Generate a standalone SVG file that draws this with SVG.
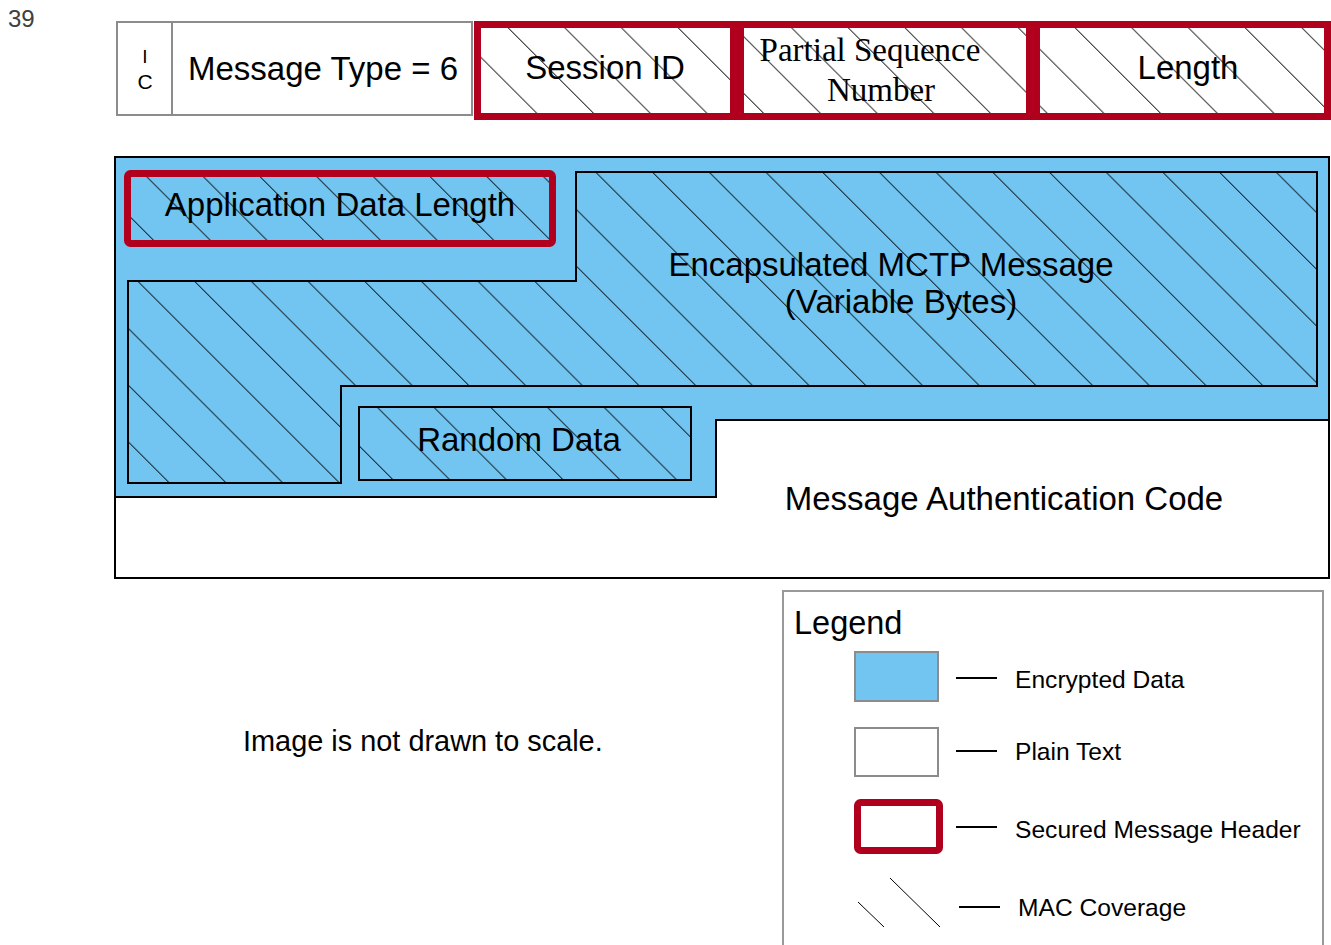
<svg xmlns="http://www.w3.org/2000/svg" width="1331" height="945" viewBox="0 0 1331 945">
<style>
text{font-family:"Liberation Sans",Arial,sans-serif;fill:#000}
.big{font-size:33px;text-anchor:middle}
.serif{font-family:"Liberation Serif","Times New Roman",serif;font-size:33px;text-anchor:middle}
.leg{font-size:24.6px}
.gray{fill:#fff;stroke:#8c8c8c;stroke-width:2}
.red{stroke:#b0001e;stroke-width:7;fill:none}
.blk{stroke:#000;stroke-width:2}
.blue{fill:#71c5f0}
.hatch{fill:url(#hatch)}
</style>
<defs>
<pattern id="hatch" patternUnits="userSpaceOnUse" width="56.7" height="56.7" patternTransform="skewX(45)">
<line x1="26.7" y1="0" x2="26.7" y2="56.7" stroke="#000" stroke-width="1.1"/>
</pattern>
</defs>
<text x="8" y="27" style="font-size:24px;fill:#404040">39</text>

<g id="ic">
<rect class="gray" x="117" y="22" width="55" height="93"/>
<text x="145" y="63" style="font-size:19px;text-anchor:middle">I</text>
<text x="145" y="89" style="font-size:21px;text-anchor:middle">C</text>
</g>
<g id="message-type">
<rect class="gray" x="172" y="22" width="300" height="93"/>
<text class="big" x="323" y="80">Message Type = 6</text>
</g>
<g id="session-id">
<rect x="477.5" y="24.5" width="256" height="92" fill="#fff"/>
<rect class="hatch" x="477.5" y="24.5" width="256" height="92"/>
<rect class="red" x="477.5" y="24.5" width="256" height="92"/>
<text class="big" x="605" y="79">Session ID</text>
</g>
<g id="partial-sequence-number">
<rect x="740.5" y="24.5" width="289" height="92" fill="#fff"/>
<rect class="hatch" x="740.5" y="24.5" width="289" height="92"/>
<rect class="red" x="740.5" y="24.5" width="289" height="92"/>
<text class="serif" x="870" y="61">Partial Sequence</text>
<text class="serif" x="881" y="101">Number</text>
</g>
<g id="length">
<rect x="1036.5" y="24.5" width="291" height="92" fill="#fff"/>
<rect class="hatch" x="1036.5" y="24.5" width="291" height="92"/>
<rect class="red" x="1036.5" y="24.5" width="291" height="92"/>
<text class="big" x="1188" y="79">Length</text>
</g>

<g id="message-authentication-code">
<rect x="115" y="157" width="1214" height="421" fill="#fff" class="blk"/>
<text class="big" x="1004" y="510">Message Authentication Code</text>
</g>
<g id="encrypted-area">
<path class="blue blk" d="M115,157 H1329 V420 H716 V497 H115 Z"/>
</g>
<g id="encapsulated-mctp-message">
<path class="blue" d="M576,172 H1317 V386 H341 V483 H128 V281 H576 Z"/>
<path class="hatch blk" d="M576,172 H1317 V386 H341 V483 H128 V281 H576 Z"/>
<text class="big" x="891" y="276">Encapsulated MCTP Message</text>
<text class="big" x="901" y="313">(Variable Bytes)</text>
</g>
<g id="application-data-length">
<rect class="hatch" x="127.5" y="173.5" width="425" height="70"/>
<rect class="red" x="127.5" y="173.5" width="425" height="70" rx="3"/>
<text class="big" x="340" y="216">Application Data Length</text>
</g>
<g id="random-data">
<rect class="hatch blk" x="359" y="407" width="332" height="73"/>
<text class="big" x="519" y="451">Random Data</text>
</g>

<text x="243" y="751" style="font-size:28.9px">Image is not drawn to scale.</text>

<g id="legend">
<rect x="783" y="591" width="540" height="370" fill="#fff" stroke="#999" stroke-width="2"/>
<text x="794" y="634" style="font-size:32.5px">Legend</text>
<rect class="blue" x="855" y="652" width="83" height="49" stroke="#8c8c8c" stroke-width="2"/>
<line x1="956" y1="678" x2="997" y2="678" class="blk"/>
<text class="leg" x="1015" y="688">Encrypted Data</text>
<rect class="gray" x="855" y="728" width="83" height="48"/>
<line x1="956" y1="751" x2="997" y2="751" class="blk"/>
<text class="leg" x="1015" y="760">Plain Text</text>
<rect class="red" x="857.5" y="802.5" width="82" height="48" rx="3" fill="#fff"/>
<line x1="956" y1="827" x2="997" y2="827" class="blk"/>
<text class="leg" x="1015" y="838">Secured Message Header</text>
<line x1="858" y1="902" x2="884" y2="927" stroke="#000" stroke-width="1"/>
<line x1="890" y1="878" x2="940" y2="927" stroke="#000" stroke-width="1"/>
<line x1="959" y1="907" x2="1000" y2="907" class="blk"/>
<text class="leg" x="1018" y="916">MAC Coverage</text>
</g>
</svg>
